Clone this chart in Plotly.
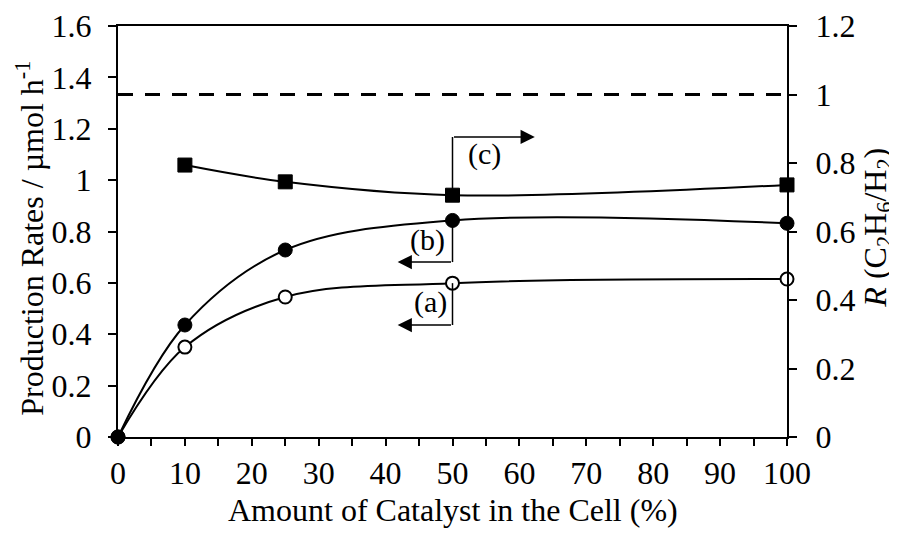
import plotly.graph_objects as go

# Data
catalyst_pct = [0, 10, 25, 50, 100]
rate_a = [0, 0.350, 0.545, 0.599, 0.615]      # open circles (left axis)
rate_b = [0, 0.436, 0.728, 0.843, 0.832]      # filled circles (left axis)
ratio_x = [10, 25, 50, 100]
ratio_c = [0.794, 0.745, 0.706, 0.736]        # squares (right axis)
ref_x = [0, 100]
ref_ratio = [1.0, 1.0]                         # dashed reference line (right axis)

x_title = "Amount of Catalyst in the Cell (%)"
y_title = "Production Rates / µmol h<sup>-1</sup>"
y2_title = "<i>R</i> (C<sub>2</sub>H<sub>6</sub>/H<sub>2</sub>)"

FONT = "Liberation Serif"
BLACK = "#000000"
FS = 32

fig = go.Figure()

fig.add_trace(go.Scatter(
    x=ref_x, y=ref_ratio, yaxis="y2", mode="lines",
    line=dict(color=BLACK, width=3, dash="15px,12px"),
    showlegend=False, hoverinfo="skip"))

fig.add_trace(go.Scatter(
    x=catalyst_pct, y=rate_a, mode="lines+markers",
    line=dict(color=BLACK, width=2, shape="spline", smoothing=1),
    marker=dict(symbol="circle", size=13, color="white", line=dict(color=BLACK, width=2)),
    cliponaxis=False, showlegend=False))

fig.add_trace(go.Scatter(
    x=catalyst_pct, y=rate_b, mode="lines+markers",
    line=dict(color=BLACK, width=2, shape="spline", smoothing=1),
    marker=dict(symbol="circle", size=14, color=BLACK, line=dict(color=BLACK, width=1)),
    cliponaxis=False, showlegend=False))

fig.add_trace(go.Scatter(
    x=ratio_x, y=ratio_c, yaxis="y2", mode="lines+markers",
    line=dict(color=BLACK, width=2, shape="spline", smoothing=1),
    marker=dict(symbol="square", size=14, color=BLACK, line=dict(color=BLACK, width=1)),
    cliponaxis=False, showlegend=False))

# Bracket annotations
brackets = [
    dict(label="(c)", y0=ratio_c[2] * 1.6 / 1.2, y1=1.168, tip=62.3, tx=54.8, ty=1.10),
    dict(label="(b)", y0=rate_b[3], y1=0.681, tip=41.8, tx=46.2, ty=0.765),
    dict(label="(a)", y0=rate_a[3], y1=0.436, tip=41.8, tx=46.7, ty=0.525),
]
annotations = []
shapes = []
for b in brackets:
    shapes.append(dict(type="line", xref="x", yref="y", x0=50, x1=50, y0=b["y0"], y1=b["y1"],
                       line=dict(color=BLACK, width=1.5)))
    annotations.append(dict(x=b["tip"], y=b["y1"], ax=50, ay=b["y1"], xref="x", yref="y",
                            axref="x", ayref="y", showarrow=True, arrowhead=2, arrowsize=1.9,
                            arrowwidth=1.5, arrowcolor=BLACK, text=""))
    annotations.append(dict(x=b["tx"], y=b["ty"], xref="x", yref="y", text=b["label"],
                            showarrow=False, font=dict(family=FONT, size=30, color=BLACK)))

# Axis titles as annotations for precise placement
title_font = dict(family=FONT, size=FS, color=BLACK)
annotations += [
    dict(text=x_title, xref="paper", yref="paper", x=0.5, y=-0.178, xanchor="center",
         yanchor="middle", showarrow=False, font=title_font),
    dict(text=y_title, xref="paper", yref="paper", x=-0.132, y=0.484, xanchor="center",
         yanchor="middle", textangle=-90, showarrow=False, font=title_font),
    dict(text=y2_title, xref="paper", yref="paper", x=1.134, y=0.5085, xanchor="center",
         yanchor="middle", textangle=-90, showarrow=False, font=title_font),
]

tick_font = dict(family=FONT, size=FS, color=BLACK)
fig.update_layout(
    width=897, height=535,
    margin=dict(l=110, r=118, t=18, b=106),
    paper_bgcolor="white", plot_bgcolor="white",
    font=dict(family=FONT, size=FS, color=BLACK),
    xaxis=dict(range=[0, 100], dtick=10, tick0=0, ticks="outside", ticklen=7, tickwidth=2,
               tickcolor=BLACK, showline=True, linecolor=BLACK, linewidth=2, mirror=True,
               showgrid=False, zeroline=False, tickfont=tick_font, automargin=False,
               ticklabelstandoff=0,
               minor=dict(dtick=5, tick0=0, ticks="outside", ticklen=7, tickwidth=2, tickcolor=BLACK)),
    yaxis=dict(range=[0, 1.6], dtick=0.2, tick0=0, ticks="outside", ticklen=8, tickwidth=2,
               tickcolor=BLACK, showline=True, linecolor=BLACK, linewidth=2,
               showgrid=False, zeroline=False, tickformat="~g", automargin=False,
               tickfont=tick_font, ticklabelstandoff=10),
    yaxis2=dict(range=[0, 1.2], dtick=0.2, tick0=0, overlaying="y", side="right",
                ticks="outside", ticklen=8, tickwidth=2, tickcolor=BLACK,
                showline=True, linecolor=BLACK, linewidth=2, showgrid=False, zeroline=False,
                tickformat="~g", tickfont=tick_font, automargin=False, ticklabelstandoff=12),
    shapes=shapes,
    annotations=annotations,
)

fig.write_html("out.html")
